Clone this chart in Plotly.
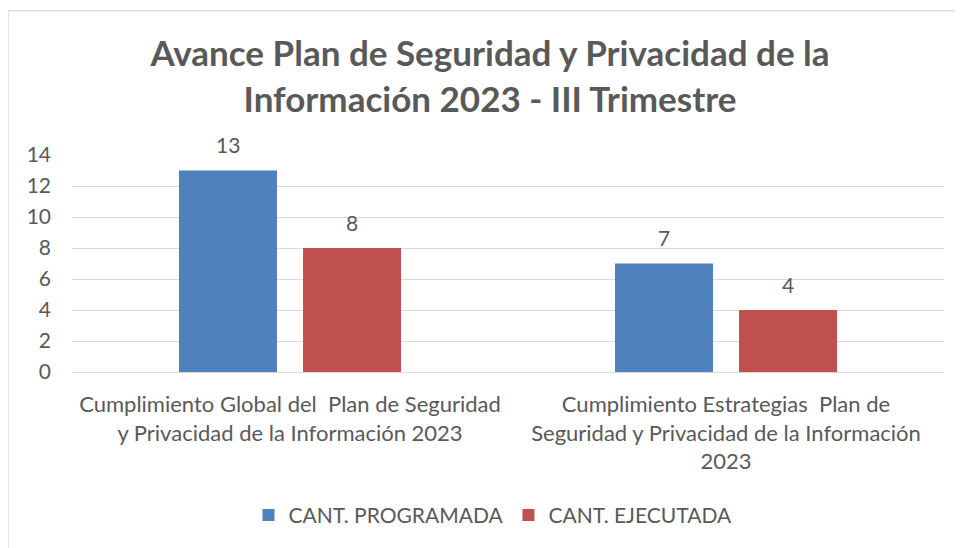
import plotly.graph_objects as go

categories = [
    "Cumplimiento Global del  Plan de Seguridad<br>y Privacidad de la Información 2023",
    "Cumplimiento Estrategias  Plan de<br>Seguridad y Privacidad de la Información<br>2023",
]
programada = [13, 7]
ejecutada = [8, 4]
series_names = ["CANT. PROGRAMADA", "CANT. EJECUTADA"]
colors = ["#4F81BD", "#C0504D"]

FONT = "Lato"
TXT = "#595959"

# page has an 8px body margin; work in screen coordinates and compensate
OFF = 8
SW, SH = 963, 548
PL, PR, PT, PB = 72, 944, 155, 373  # plot area in screen px

W, H = SW - OFF, SH - OFF
L, T = PL - OFF, PT - OFF
R, B = SW - PR, SH - PB - OFF
pw, ph = PR - PL, PB - PT


def px(x):
    return (x - PL) / pw


def py(y):
    return (PB - y) / ph


fig = go.Figure()
offsets = [-62, 62]
for name, vals, col, dx in zip(series_names, [programada, ejecutada], colors, offsets):
    fig.add_trace(go.Bar(
        x=categories, y=vals, name=name,
        marker=dict(color=col, line=dict(width=0)),
    ))
    for c, v in zip(categories, vals):
        fig.add_annotation(
            x=c, y=v, xref="x", yref="y", text=str(v), showarrow=False,
            xshift=dx, yshift=26, yanchor="middle",
            font=dict(family=FONT, size=21, color=TXT),
        )

fig.update_layout(
    width=W, height=H,
    margin=dict(l=L, r=R, t=T, b=B, pad=0),
    paper_bgcolor="white", plot_bgcolor="white",
    barmode="group", bargap=0.431, bargroupgap=0.21,
    font=dict(family=FONT, color=TXT, size=21),
    title=dict(
        text="<b>Avance Plan de Seguridad y Privacidad de la<br>Información 2023 - III Trimestre</b>",
        x=(490 - OFF) / W, xanchor="center", y=1 - (66 - OFF) / H, yanchor="middle",
        font=dict(family=FONT, size=35, color=TXT),
    ),
    showlegend=True,
    legend=dict(
        orientation="h", x=px(493), xanchor="center", y=py(517), yanchor="middle",
        font=dict(family=FONT, size=21, color=TXT),
        traceorder="normal",
    ),
    xaxis=dict(
        showgrid=False, showline=False, ticks="",
        ticklabelstandoff=17,
        tickfont=dict(family=FONT, size=22, color=TXT),
    ),
    yaxis=dict(
        range=[0, 14], dtick=2, tick0=0,
        showgrid=True, gridcolor="#D9D9D9", gridwidth=1.3,
        zeroline=True, zerolinecolor="#D9D9D9", zerolinewidth=1.3,
        showline=False, ticks="",
        ticklabelstandoff=20,
        tickfont=dict(family=FONT, size=21, color=TXT),
    ),
    shapes=[
        dict(type="line", xref="paper", yref="paper",
             x0=px(8), x1=px(990), y0=py(10), y1=py(10),
             line=dict(color="#D9D9D9", width=1.3)),
        dict(type="line", xref="paper", yref="paper",
             x0=px(8), x1=px(8), y0=py(10), y1=py(570),
             line=dict(color="#D9D9D9", width=1.3)),
    ],
)

fig.write_html("out.html")
